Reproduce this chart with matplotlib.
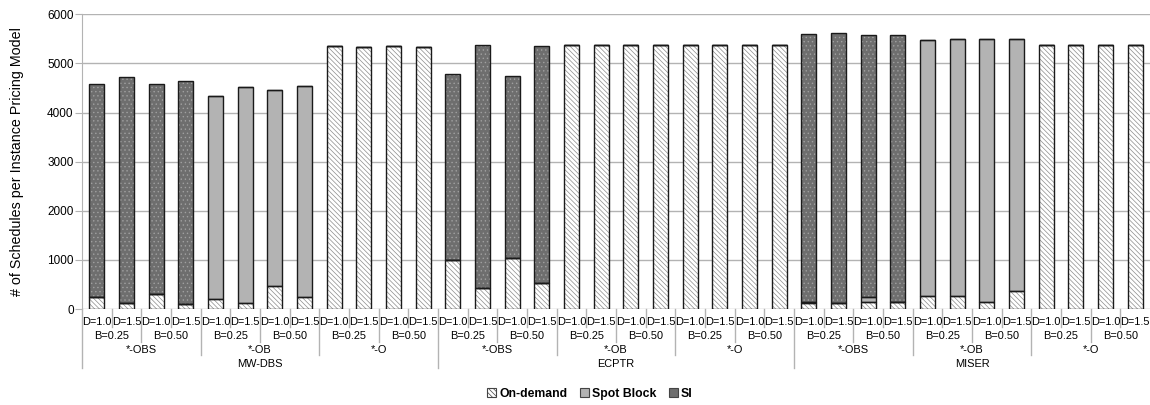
import matplotlib
matplotlib.use("Agg")
import matplotlib.pyplot as plt
from matplotlib.patches import Patch
from matplotlib.lines import Line2D

# ── Dados ────────────────────────────────────────────────────────────────────
algorithms = ["MW-DBS", "ECPTR", "MISER"]
variants = ["*-OBS", "*-OB", "*-O"]
budgets = ["B=0.25", "B=0.50"]
deadlines = ["D=1.0", "D=1.5"]

on_demand = [240, 115, 300, 100, 200, 115, 475, 250, 5355, 5336, 5355, 5336,
             1005, 435, 1040, 536, 5383, 5380, 5383, 5380, 5383, 5380, 5383, 5380,
             130, 115, 140, 150, 258, 272, 136, 367, 5377, 5377, 5377, 5377]
spot_block = [0, 0, 0, 0, 4145, 4413, 3985, 4298, 0, 0, 0, 0,
              0, 0, 0, 0, 0, 0, 0, 0, 0, 0, 0, 0,
              20, 0, 110, 0, 5227, 5234, 5356, 5125, 0, 0, 0, 0]
si = [4335, 4615, 4275, 4537, 0, 0, 0, 0, 0, 0, 0, 0,
      3780, 4950, 3705, 4814, 0, 0, 0, 0, 0, 0, 0, 0,
      5444, 5499, 5337, 5437, 0, 0, 0, 0, 0, 0, 0, 0]

# ── Estilo ───────────────────────────────────────────────────────────────────
GRID = "#b3b3b3"
EDGE = "#1a1a1a"
SB_COLOR = "#b3b3b3"
SI_COLOR = "#6e6e6e"
OD_HATCH = "\\" * 7
SI_HATCH = "...."
FONT = ["Liberation Sans", "DejaVu Sans"]

plt.rcParams["font.family"] = FONT
plt.rcParams["hatch.linewidth"] = 0.5

W = 0.5
n = len(on_demand)
x = list(range(n))

fig = plt.figure(figsize=(11.5, 4.05), dpi=100)
ax = fig.add_axes([0.0713, 0.237, 0.9287, 0.7277])


def draw_layer(values, bottoms, face, hatch, hatch_col):
    # camada preenchida (hachura usa a cor da borda) + contorno escuro por cima
    ax.bar(x, values, W, bottom=bottoms, color=face, edgecolor=hatch_col,
           linewidth=0, hatch=hatch, zorder=3)
    ax.bar(x, values, W, bottom=bottoms, fill=False, edgecolor=EDGE,
           linewidth=1.0, zorder=4)


bottom_sb = on_demand
bottom_si = [a + b for a, b in zip(on_demand, spot_block)]

draw_layer(on_demand, [0] * n, "white", OD_HATCH, "#8c8c8c")
draw_layer(spot_block, bottom_sb, SB_COLOR, None, SB_COLOR)
draw_layer(si, bottom_si, SI_COLOR, SI_HATCH, "#a0a0a0")

ax.set_xlim(-0.5, n - 0.5)
ax.set_ylim(0, 6000)
ax.set_yticks(range(0, 6001, 1000))
ax.yaxis.grid(True, color=GRID, linewidth=1.0, zorder=0)
ax.set_axisbelow(True)
ax.tick_params(axis="y", labelsize=8.5, length=5, color=GRID, pad=1)
ax.set_xticks([])
for side in ["top", "right", "bottom"]:
    ax.spines[side].set_visible(False)
ax.spines["left"].set_color(GRID)
ax.set_ylabel("# of Schedules per Instance Pricing Model", fontsize=10.3, labelpad=17)

# ── Rótulos hierárquicos do eixo x ───────────────────────────────────────────
tr = ax.get_xaxis_transform()
row_y = [-0.044, -0.092, -0.139, -0.187]
sep_y = [-0.061, -0.112, -0.156, -0.200]
lab_kw = dict(transform=tr, ha="center", va="center", fontsize=7.9, clip_on=False)

for i in range(n):
    ax.text(x[i], row_y[0], deadlines[i % 2], **lab_kw)
for k in range(n // 2):
    ax.text(2 * k + 0.5, row_y[1], budgets[k % 2], **lab_kw)
for k in range(n // 4):
    ax.text(4 * k + 1.5, row_y[2], variants[k % 3], **lab_kw)
for k in range(n // 12):
    ax.text(12 * k + 5.5, row_y[3], algorithms[k], **lab_kw)

for i in range(n):
    pos = i - 0.5
    if i % 12 == 0:
        end = sep_y[3]
    elif i % 4 == 0:
        end = sep_y[2]
    elif i % 2 == 0:
        end = sep_y[1]
    else:
        end = sep_y[0]
    ax.add_line(Line2D([pos, pos], [0, end], transform=tr, color=GRID,
                       linewidth=1.0, clip_on=False))

# ── Legenda ──────────────────────────────────────────────────────────────────
handles = [
    Patch(facecolor="white", edgecolor="#444444", hatch=OD_HATCH, linewidth=0.8, label="On-demand"),
    Patch(facecolor=SB_COLOR, edgecolor="#444444", linewidth=0.8, label="Spot Block"),
    Patch(facecolor=SI_COLOR, edgecolor="#444444", linewidth=0.8, label="SI"),
]
fig.legend(handles=handles, loc="center", bbox_to_anchor=(0.513, 0.027), ncol=3,
           frameon=False, handlelength=0.75, handleheight=0.75, handletextpad=0.25,
           columnspacing=1.0, prop=dict(family=FONT, weight="bold", size=8.8))

fig.savefig("out.png", dpi=100)
